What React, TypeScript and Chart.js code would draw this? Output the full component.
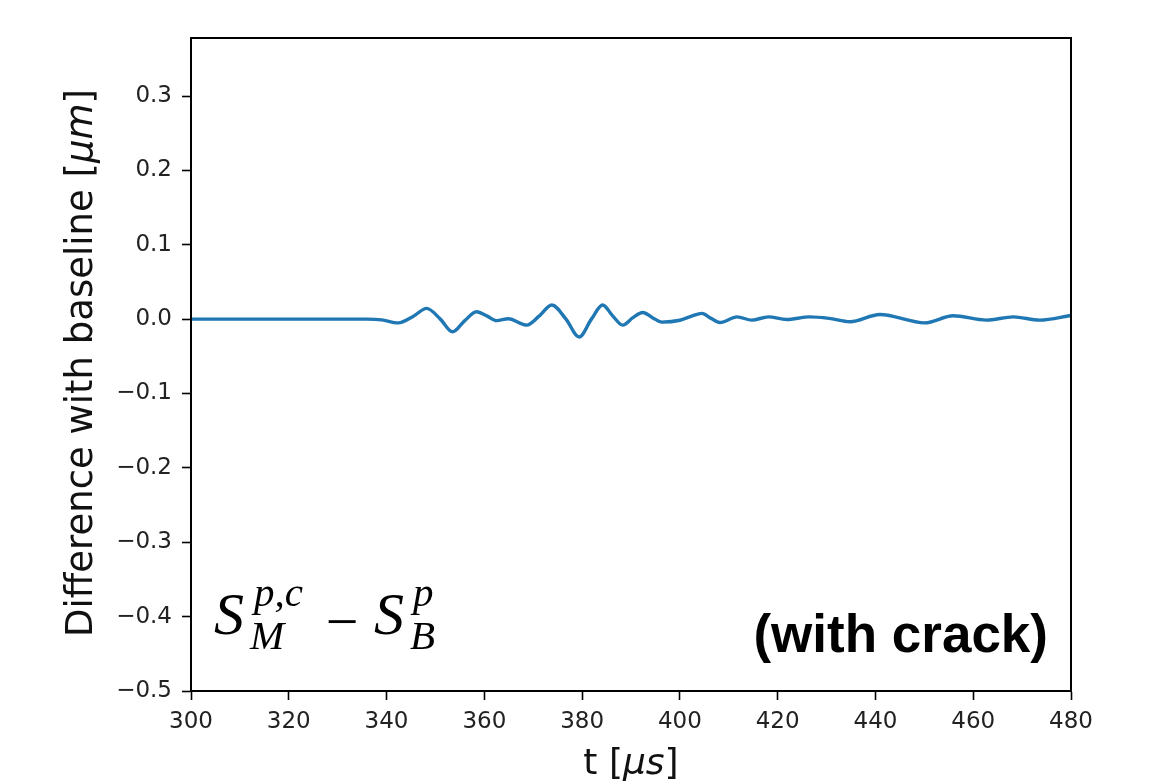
import React, { useEffect, useRef } from "react";
import { Chart, registerables } from "chart.js";

Chart.register(...registerables);

const timeUs: number[] = [
  300, 320, 336, 339, 342.4, 345.5, 348.2, 351, 353.5, 356, 358.4, 360.6, 362.5, 364.9,
  368.7, 371.2, 373.8, 376.7, 379.4, 381.9, 384.2, 386.3, 388.3, 390.4, 392.4, 394.4,
  396.3, 400, 402.4, 404.5, 406.4, 408.2, 411.7, 414.7, 418.1, 421.8, 426.5, 430.5,
  434.8, 440.9, 450.1, 455.9, 462.7, 468.2, 473.6, 480,
];
const diffUm: number[] = [
  0, 0, 0, -0.001, -0.005, 0.004, 0.0144, 0.0, -0.017, -0.002, 0.0099, 0.004, -0.002, 0.0005,
  -0.008, 0.004, 0.019, 0.0, -0.024, 0.0, 0.019, 0.004, -0.008, 0.002, 0.009, 0.002,
  -0.004, -0.0015, 0.004, 0.0077, 0.001, -0.0045, 0.003, -0.0013, 0.003, -0.0005, 0.003, 0.001,
  -0.0035, 0.0063, -0.005, 0.0045, -0.0013, 0.003, -0.0013, 0.005,
];
const xTicks: number[] = [300, 320, 340, 360, 380, 400, 420, 440, 460, 480];
const yTicks: number[] = [-0.5, -0.4, -0.3, -0.2, -0.1, 0.0, 0.1, 0.2, 0.3];

const fmt = (v: number) => {
  const s = Math.abs(v).toFixed(1);
  return v < -1e-9 ? "\u2212" + s : s;
};

const overlayPlugin = {
  id: "overlay",
  afterDraw(chart: any) {
    const ctx = chart.ctx as CanvasRenderingContext2D;
    const a = chart.chartArea;
    ctx.save();
    // frame
    ctx.strokeStyle = "#000";
    ctx.lineWidth = 2;
    ctx.strokeRect(a.left, a.top, a.right - a.left, a.bottom - a.top);

    // x axis title: t [μs]
    ctx.fillStyle = "#111";
    ctx.textBaseline = "alphabetic";
    const fN = "36px 'DejaVu Sans'";
    const fI = "oblique 36px 'DejaVu Sans'";
    const xParts: [string, string][] = [["t [", fN], ["\u03bcs", fI], ["]", fN]];
    let total = 0;
    for (const [t, f] of xParts) { ctx.font = f; total += ctx.measureText(t).width; }
    let x = (a.left + a.right) / 2 - total / 2;
    for (const [t, f] of xParts) { ctx.font = f; ctx.textAlign = "left"; ctx.fillText(t, x, 774); x += ctx.measureText(t).width; }

    // y axis title
    const fN2 = "37px 'DejaVu Sans'";
    const fI2 = "oblique 37px 'DejaVu Sans'";
    const yParts: [string, string][] = [["Difference with baseline [", fN2], ["\u03bcm", fI2], ["]", fN2]];
    total = 0;
    for (const [t, f] of yParts) { ctx.font = f; total += ctx.measureText(t).width; }
    ctx.save();
    ctx.translate(92, 363);
    ctx.rotate(-Math.PI / 2);
    let yx = -total / 2;
    for (const [t, f] of yParts) { ctx.font = f; ctx.textAlign = "left"; ctx.fillText(t, yx, 0); yx += ctx.measureText(t).width; }
    ctx.restore();

    // math annotation  S_M^{p,c} − S_B^p
    ctx.fillStyle = "#000";
    ctx.textAlign = "left";
    const big = "italic 60px 'Liberation Serif'";
    const small = "italic 41px 'Liberation Serif'";
    ctx.font = big; ctx.fillText("S", 214, 634);
    ctx.font = small; ctx.fillText("p,c", 254, 606);
    ctx.font = small; ctx.fillText("M", 250, 649);
    ctx.font = "58px 'Liberation Serif'"; ctx.textAlign = "center"; ctx.fillText("\u2212", 342, 641);
    ctx.textAlign = "left";
    ctx.font = big; ctx.fillText("S", 374, 634);
    ctx.font = small; ctx.fillText("p", 413, 606);
    ctx.font = small; ctx.fillText("B", 410, 649);

    // (with crack)
    ctx.font = "bold 53px 'Liberation Sans'";
    ctx.textAlign = "right";
    ctx.fillText("(with crack)", 1048, 652);
    ctx.restore();
  },
};

export default function App() {
  const ref = useRef<HTMLCanvasElement | null>(null);
  useEffect(() => {
    if (!ref.current) return;
    const chart = new Chart(ref.current, {
      type: "line",
      data: {
        datasets: [
          {
            data: timeUs.map((t, i) => ({ x: t, y: diffUm[i] })),
            borderColor: "#1f77b4",
            borderWidth: 3.4,
            pointRadius: 0,
            cubicInterpolationMode: "monotone",
            fill: false,
          },
        ],
      },
      options: {
        animation: false,
        responsive: false,
        devicePixelRatio: 1,
        layout: { padding: { top: 38, right: 92, left: 0, bottom: 0 } },
        plugins: { legend: { display: false }, tooltip: { enabled: false } },
        scales: {
          x: {
            type: "linear",
            min: 300,
            max: 480,
            afterBuildTicks: (s: any) => { s.ticks = xTicks.map((v) => ({ value: v })); },
            afterFit: (s: any) => { s.height = 92; },
            ticks: {
              callback: (v: any) => String(v),
              font: { family: "'DejaVu Sans'", size: 23 },
              color: "#222",
              padding: 8,
              maxRotation: 0,
              autoSkip: false,
            },
            grid: { drawOnChartArea: false, drawTicks: true, tickLength: 9, tickColor: "#000", tickWidth: 1.6 },
            border: { display: true, color: "#000", width: 2 },
          },
          y: {
            type: "linear",
            min: -0.5,
            max: 0.378,
            afterBuildTicks: (s: any) => { s.ticks = yTicks.map((v) => ({ value: v })); },
            afterFit: (s: any) => { s.width = 191; },
            ticks: {
              callback: (v: any) => fmt(Number(v)),
              font: { family: "'DejaVu Sans'", size: 23 },
              color: "#222",
              padding: 10,
              autoSkip: false,
            },
            grid: { drawOnChartArea: false, drawTicks: true, tickLength: 9, tickColor: "#000", tickWidth: 1.6 },
            border: { display: true, color: "#000", width: 2 },
          },
        },
      },
      plugins: [overlayPlugin],
    } as any);
    return () => chart.destroy();
  }, []);
  return (
    <div style={{ position: "absolute", left: 0, top: 0, width: 1163, height: 783, background: "#fff" }}>
      <canvas ref={ref} width={1163} height={783} style={{ width: 1163, height: 783, display: "block" }} />
    </div>
  );
}
